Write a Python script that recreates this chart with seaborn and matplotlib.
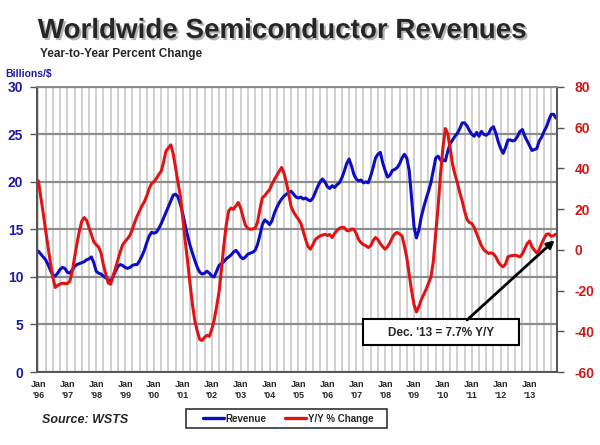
import numpy as np
import pandas as pd
import seaborn as sns
import matplotlib.pyplot as plt
import matplotlib.patheffects as pe
from matplotlib.patches import Rectangle
from matplotlib.lines import Line2D

# monthly values, Jan 1996 .. Dec 2013 (one row per year)
revenue = [
    12.7, 12.4, 12.1, 11.8, 11.3, 10.7, 10.2, 10.1, 10.4, 10.8, 11.0, 10.9,   # 1996
    10.5, 10.4, 10.7, 11.1, 11.3, 11.4, 11.5, 11.6, 11.8, 11.9, 12.1, 11.5,   # 1997
    10.6, 10.4, 10.3, 10.1, 9.9, 9.7, 9.6, 10.0, 10.6, 11.1, 11.3, 11.2,      # 1998
    11.0, 10.9, 11.0, 11.2, 11.3, 11.3, 11.7, 12.2, 12.8, 13.6, 14.3, 14.7,   # 1999
    14.6, 14.7, 15.1, 15.6, 16.2, 16.8, 17.4, 18.0, 18.6, 18.7, 18.4, 17.6,   # 2000
    16.6, 15.4, 14.3, 13.3, 12.5, 11.7, 11.0, 10.5, 10.3, 10.4, 10.6, 10.4,   # 2001
    10.1, 10.0, 10.6, 11.2, 11.4, 11.6, 11.9, 12.1, 12.3, 12.6, 12.8, 12.5,   # 2002
    12.1, 11.9, 12.1, 12.4, 12.5, 12.6, 12.8, 13.4, 14.4, 15.5, 16.0, 15.8,   # 2003
    15.5, 15.9, 16.7, 17.3, 17.8, 18.2, 18.5, 18.7, 18.9, 19.0, 18.7, 18.4,   # 2004
    18.3, 18.4, 18.2, 18.3, 18.1, 18.0, 18.3, 18.9, 19.5, 20.0, 20.3, 20.0,   # 2005
    19.5, 19.3, 19.6, 19.4, 19.7, 19.9, 20.4, 21.1, 21.9, 22.4, 21.7, 20.8,   # 2006
    20.3, 20.1, 20.2, 19.9, 20.0, 19.9, 20.6, 21.5, 22.5, 22.9, 23.1, 22.0,   # 2007
    21.2, 20.5, 20.7, 21.2, 21.3, 21.5, 21.9, 22.5, 22.9, 22.5, 21.2, 18.3,   # 2008
    15.3, 14.1, 14.9, 16.3, 17.3, 18.2, 19.0, 19.9, 21.2, 22.5, 22.7, 22.3,   # 2009
    22.3, 22.2, 23.2, 24.0, 24.4, 24.8, 25.1, 25.6, 26.2, 26.2, 25.9, 25.4,   # 2010
    25.0, 24.8, 25.2, 24.8, 25.3, 25.0, 24.9, 25.1, 25.6, 25.8, 25.1, 24.2,   # 2011
    23.5, 23.0, 23.6, 24.4, 24.4, 24.3, 24.4, 24.8, 25.3, 25.5, 24.8, 24.3,   # 2012
    23.8, 23.3, 23.4, 23.5, 24.3, 24.7, 25.3, 25.8, 26.5, 27.1, 27.1, 26.7,   # 2013
]

yoy_change = [
    33.8, 26.0, 18.0, 9.5, 1.5, -6.5, -13.5, -18.5, -17.5, -16.8, -16.4, -16.6,    # 1996
    -16.6, -15.5, -11.0, -4.0, 3.0, 9.0, 14.0, 15.8, 14.5, 11.0, 7.5, 4.0,         # 1997
    2.5, 1.3, -1.5, -7.5, -12.0, -16.3, -16.9, -13.0, -9.0, -5.0, -1.0, 2.5,       # 1998
    4.0, 5.5, 7.0, 10.0, 13.5, 16.5, 19.0, 21.5, 23.5, 26.5, 30.0, 32.5,           # 1999
    33.5, 35.0, 37.0, 38.5, 43.0, 48.5, 50.0, 51.5, 47.0, 40.0, 33.0, 26.0,        # 2000
    15.0, 4.0, -6.0, -17.0, -27.0, -35.0, -40.0, -44.0, -44.5, -43.0, -42.0, -42.5,  # 2001
    -39.0, -34.5, -28.0, -21.0, -10.0, 2.0, 12.0, 19.0, 20.5, 19.8, 21.5, 23.2,    # 2002
    20.5, 16.0, 12.0, 10.5, 10.1, 10.2, 10.6, 13.5, 20.0, 25.5, 26.5, 28.1,        # 2003
    29.5, 32.2, 34.5, 36.5, 38.5, 40.4, 37.5, 33.0, 27.0, 21.0, 18.5, 16.6,        # 2004
    15.0, 13.0, 9.0, 5.0, 1.5, 0.3, 2.5, 5.0, 6.0, 6.8, 7.2, 7.6,                  # 2005
    7.0, 7.5, 6.0, 8.0, 9.5, 10.5, 11.0, 10.9, 9.5, 9.3, 10.2, 10.1,              # 2006
    8.0, 5.0, 3.5, 2.5, 2.0, 1.1, 2.0, 4.5, 6.0, 5.0, 3.0, 1.5,                    # 2007
    0.3, 1.5, 3.5, 6.0, 7.8, 8.5, 7.8, 6.8, 2.0, -3.8, -12.0, -20.2,               # 2008
    -27.0, -30.5, -28.0, -24.5, -22.0, -19.5, -16.5, -13.5, -6.0, 8.0, 21.0, 37.0, # 2009
    50.0, 59.5, 57.0, 50.0, 42.0, 37.0, 33.0, 28.0, 24.0, 19.0, 15.0, 13.4,        # 2010
    12.9, 11.0, 8.0, 5.0, 2.0, 0.0, -1.0, -1.8, -1.5, -2.0, -3.5, -6.0,            # 2011
    -7.5, -8.4, -7.0, -3.5, -3.0, -2.8, -2.7, -3.0, -3.5, -2.0, 0.5, 3.0,          # 2012
    4.3, 1.5, -0.2, -1.6, 0.0, 3.1, 5.5, 7.6, 7.8, 6.6, 7.0, 7.7,                  # 2013
]

year_labels = ["'96", "'97", "'98", "'99", "'00", "'01", "'02", "'03", "'04",
               "'05", "'06", "'07", "'08", "'09", "'10", "'11", "'12", "'13"]

BLUE = '#0d0dc4'
RED = '#e01414'
BLUE_TXT = '#1c1ca6'
RED_TXT = '#d01818'

sns.set_style('white')
plt.rcParams['font.family'] = ['Liberation Sans', 'DejaVu Sans']
plt.rcParams['font.weight'] = 'bold'
plt.rcParams['axes.unicode_minus'] = False

df = pd.DataFrame({'month': np.arange(len(revenue)),
                   'revenue': revenue,
                   'yoy': yoy_change})

fig = plt.figure(figsize=(6, 4.45), dpi=100)
ax = fig.add_axes([0.062, 0.164, 0.866, 0.641])
ax2 = ax.twinx()

sns.lineplot(data=df, x='month', y='revenue', ax=ax, color=BLUE, lw=2.2, legend=False)
sns.lineplot(data=df, x='month', y='yoy', ax=ax2, color=RED, lw=2.2, legend=False)

for a in (ax, ax2):
    a.set_xlabel('')
    a.set_ylabel('')

ax.set_xlim(-0.5, 215.3)
ax.set_ylim(0, 30)
ax2.set_ylim(-60, 80)

ax.set_xticks(np.arange(0, len(revenue), 12))
ax.set_xticklabels(['Jan\n' + y for y in year_labels], fontsize=6.5, fontweight='bold')
ax.set_xticks(np.arange(0, len(revenue), 3), minor=True)
ax.set_yticks(np.arange(0, 31, 5))
ax2.set_yticks(np.arange(-60, 81, 20))

ax.tick_params(axis='x', which='major', length=3, width=1, color='#555555', pad=3)
ax.tick_params(axis='x', which='minor', length=3, width=1, color='#888888')
ax.tick_params(axis='y', length=5, width=1, color='#555555', pad=5,
               labelcolor=BLUE_TXT, labelsize=10)
ax2.tick_params(axis='y', length=5, width=1, color='#555555', pad=8,
                labelcolor=RED_TXT, labelsize=10)
for lab in ax.get_yticklabels() + ax2.get_yticklabels():
    lab.set_fontweight('bold')

ax.set_axisbelow(True)
ax.xaxis.grid(True, which='both', color='#c8c8c8', lw=1.2)
ax.yaxis.grid(True, color='#8c8c8c', lw=1.6)

for a in (ax, ax2):
    for side in ['left', 'bottom', 'right']:
        a.spines[side].set_color('#555555')
        a.spines[side].set_linewidth(1.3)
    a.spines['top'].set_color('#8c8c8c')
    a.spines['top'].set_linewidth(1.3)

# titles
fig.text(0.063, 0.9146, 'Worldwide Semiconductor Revenues', fontsize=20,
         fontweight='bold', va='baseline',
         path_effects=[pe.SimplePatchShadow(offset=(1.5, -1.5), shadow_rgbFace='#a0a0a0', alpha=0.8),
                       pe.Normal()])
fig.text(0.066, 0.871, 'Year-to-Year Percent Change', fontsize=8.5,
         fontweight='bold', va='baseline')
fig.text(0.008, 0.827, 'Billions/$', fontsize=7.5, fontweight='bold',
         color=BLUE_TXT, va='baseline')
fig.text(0.07, 0.049, 'Source: WSTS', fontsize=9, fontweight='bold',
         style='italic', va='baseline')

# legend
fig.patches.append(Rectangle((186 / 600, 1 - 428 / 445), 201 / 600, 19 / 445,
                             transform=fig.transFigure, facecolor='white',
                             edgecolor='#333333', lw=1.2, zorder=4))
handles = [Line2D([], [], color=BLUE, lw=2.4), Line2D([], [], color=RED, lw=2.4)]
leg = fig.legend(handles, ['Revenue', 'Y/Y % Change'], loc='center',
                 bbox_to_anchor=(288 / 600, 1 - 418.5 / 445), ncol=2,
                 frameon=False, prop={'size': 7, 'weight': 'bold'},
                 handlelength=2.2, handletextpad=0.15, columnspacing=1.9)
leg.set_zorder(5)

# annotation box and arrow
ax2.add_patch(Rectangle((363 / 600, 1 - 345 / 445), 156 / 600, 26 / 445,
                        transform=fig.transFigure, facecolor='white',
                        edgecolor='black', lw=1.5, zorder=6, clip_on=False))
ax2.text(441 / 600, 1 - 333 / 445, "Dec. '13 = 7.7% Y/Y", transform=fig.transFigure,
         ha='center', va='center', fontsize=8.5, fontweight='bold', zorder=7)
ax2.annotate('', xy=(df['month'].iloc[-1] - 0.6, df['yoy'].iloc[-1] - 3),
             xytext=(467 / 600, 1 - 320 / 445), textcoords='figure fraction',
             arrowprops=dict(arrowstyle='-|>', color='black', lw=2,
                             mutation_scale=11, shrinkA=0, shrinkB=0),
             zorder=6)

fig.savefig('out.png', dpi=100)
